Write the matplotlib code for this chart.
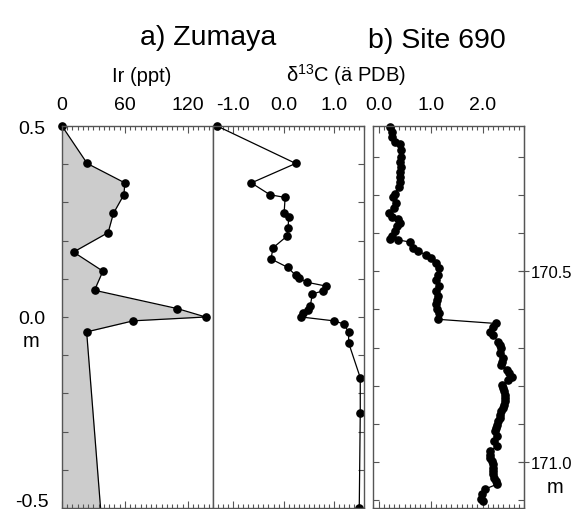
import numpy as np
import matplotlib.pyplot as plt
from matplotlib.ticker import MultipleLocator

plt.rcParams['font.family'] = ['Liberation Sans', 'DejaVu Sans']
plt.rcParams['mathtext.default'] = 'regular'
plt.rcParams['mathtext.fontset'] = 'custom'
plt.rcParams['mathtext.rm'] = 'Liberation Sans'

# a) Zumaya - Ir (last point lies below the plotted range)
ir_depth = [0.5, 0.402, 0.351, 0.320, 0.271, 0.221, 0.170, 0.120, 0.070,
            0.022, 0.0, -0.010, -0.039, -0.56]
ir_ppt = [0, 24, 60, 59, 49, 44, 11, 39, 31, 110, 137, 68, 23.5, 38.5]

# a) Zumaya - d13C
zum_depth = [0.5, 0.402, 0.351, 0.320, 0.313, 0.272, 0.263, 0.232, 0.211,
             0.181, 0.152, 0.130, 0.109, 0.102, 0.091, 0.081, 0.069, 0.060,
             0.030, 0.019, 0.010, 0.0, -0.010, -0.018, -0.040, -0.068,
             -0.159, -0.250, -0.5]
zum_d13c = [-1.32, 0.24, -0.64, -0.27, 0.03, 0.01, 0.10, 0.09, 0.06,
            -0.21, -0.25, 0.08, 0.24, 0.31, 0.46, 0.84, 0.79, 0.57,
            0.53, 0.49, 0.39, 0.35, 0.99, 1.19, 1.29, 1.29,
            1.52, 1.52, 1.50]

# b) Site 690 - d13C
s690_depth = [170.122, 170.135, 170.148, 170.161, 170.168, 170.183, 170.200,
              170.214, 170.227, 170.240, 170.253, 170.266, 170.279, 170.298,
              170.307, 170.322, 170.335, 170.348, 170.357, 170.364, 170.374,
              170.383, 170.396, 170.407, 170.416, 170.418, 170.424, 170.439,
              170.448, 170.457, 170.465, 170.478, 170.491, 170.509, 170.522,
              170.539, 170.552, 170.565, 170.576, 170.587, 170.598, 170.609,
              170.626,
              170.637, 170.647, 170.659, 170.668, 170.685, 170.693, 170.702,
              170.715, 170.728, 170.737, 170.746, 170.759, 170.767, 170.776,
              170.785, 170.798, 170.806, 170.815, 170.824, 170.833, 170.841,
              170.850, 170.858, 170.867, 170.876, 170.885, 170.893, 170.902,
              170.910, 170.919, 170.932, 170.945, 170.958, 170.971, 170.980,
              170.989, 170.997, 171.006, 171.015, 171.023, 171.032, 171.041,
              171.049, 171.058, 171.071, 171.084, 171.097, 171.102]
s690_d13c = [0.23, 0.26, 0.25, 0.31, 0.42, 0.44, 0.43,
             0.41, 0.43, 0.41, 0.41, 0.42, 0.39, 0.31,
             0.28, 0.34, 0.29, 0.21, 0.25, 0.37, 0.41,
             0.36, 0.31, 0.25, 0.23, 0.37, 0.61, 0.66,
             0.76, 0.91, 1.01, 1.11, 1.16, 1.14, 1.11,
             1.16, 1.11, 1.14, 1.12, 1.10, 1.12, 1.16,
             1.14,
             2.26, 2.20, 2.14, 2.20, 2.30, 2.33, 2.36,
             2.33, 2.40, 2.38, 2.36, 2.46, 2.50, 2.56,
             2.49, 2.38, 2.40, 2.41, 2.42, 2.43, 2.42,
             2.41, 2.39, 2.36, 2.34, 2.33, 2.30, 2.28,
             2.26, 2.24, 2.27, 2.22, 2.28, 2.14, 2.14,
             2.15, 2.18, 2.20, 2.19, 2.19, 2.20, 2.22,
             2.25, 2.27, 2.04, 1.98, 1.96, 2.01]

W, H = 572.0, 510.0
fig = plt.figure(figsize=(W / 100, H / 100), dpi=100)


def box(x0, x1, y0=127.0, y1=509.0):
    return [x0 / W, 1 - y1 / H, (x1 - x0) / W, (y1 - y0) / H]


ax1 = fig.add_axes(box(62, 213))
ax2 = fig.add_axes(box(213, 364.3))
ax3 = fig.add_axes(box(373.3, 524.3))

spine_col = '#555555'
for ax in (ax1, ax2, ax3):
    for s in ax.spines.values():
        s.set_color(spine_col)
        s.set_linewidth(1.0)
    ax.xaxis.tick_top()
    ax.xaxis.set_minor_locator(MultipleLocator(0.1))
    ax.tick_params(axis='x', which='both', direction='in', top=True,
                   bottom=True, labeltop=True, labelbottom=False,
                   labelsize=14, color=spine_col, width=0.8, pad=9)
    ax.tick_params(axis='x', which='major', length=5)
    ax.tick_params(axis='x', which='minor', length=3)

mk = dict(marker='o', ms=5.2, color='black', lw=0.9)

# --- Ir ---
ax1.fill_betweenx(ir_depth, 0, ir_ppt, color='#cccccc', lw=0)
ax1.plot(ir_ppt, ir_depth, color='black', lw=0.9)
ax1.plot(ir_ppt[:-1], ir_depth[:-1], 'o', ms=5.2, color='black', clip_on=False)
ax1.set_xlim(0, 144)
ax1.set_ylim(-0.5, 0.5)
ax1.set_xticks([0, 60, 120])
ax1.xaxis.set_minor_locator(MultipleLocator(5))
ax1.set_yticks([-0.5, 0.0, 0.5])
ax1.set_yticklabels(['', '0.0', '0.5'])
ax1.yaxis.set_minor_locator(MultipleLocator(0.1))
ax1.tick_params(axis='y', which='both', direction='in', left=True, right=False,
                labelsize=14, color=spine_col, width=0.8, length=4, pad=12)
# bottom depth label sits at the lower image edge
fig.text(49 / W, 1 - 507 / H, '-0.5', fontsize=14, ha='right', va='baseline')

# --- d13C Zumaya ---
ax2.plot(zum_d13c, zum_depth, clip_on=False, **mk)
ax2.set_xlim(-1.4, 1.6)
ax2.set_ylim(-0.5, 0.5)
ax2.set_xticks([-1, 0, 1])
ax2.set_xticklabels(['-1.0', '0.0', '1.0'])
ax2.set_yticks([-0.5, 0.0, 0.5])
ax2.yaxis.set_minor_locator(MultipleLocator(0.1))
ax2.tick_params(axis='y', which='both', direction='in', left=False, right=True,
                labelleft=False, color=spine_col, width=0.8, length=4)

# --- d13C Site 690 ---
ax3.plot(s690_d13c, s690_depth, clip_on=False, **mk)
ax3.set_xlim(-0.1, 2.8)
ax3.set_ylim(171.12, 170.12)
ax3.set_xticks([0, 1, 2])
ax3.set_xticklabels(['0.0', '1.0', '2.0'])
ax3.set_yticks([170.5, 171.0])
ax3.yaxis.set_minor_locator(MultipleLocator(0.1))
ax3.tick_params(axis='y', which='both', direction='in', left=True, right=True,
                labelleft=False, labelright=False, color=spine_col,
                width=0.8, length=4)
sec = ax3.secondary_yaxis('right')
sec.set_yticks([170.5, 171.0])
sec.set_yticklabels(['170.5', '171.0'], fontsize=12)
sec.spines['right'].set_color(spine_col)
sec.tick_params(axis='y', direction='inout', length=7, width=0.8,
                color=spine_col, pad=1)

# titles and labels
fig.text(208 / W, 1 - 45 / H, 'a) Zumaya', fontsize=20.5, ha='center', va='baseline')
fig.text(437 / W, 1 - 48 / H, 'b) Site 690', fontsize=20.5, ha='center', va='baseline')
fig.text(142 / W, 1 - 82 / H, 'Ir (ppt)', fontsize=14.5, ha='center', va='baseline')
fig.text(346 / W, 1 - 82 / H, r'δ$^{13}$C (ä PDB)', fontsize=14.5, ha='center', va='baseline')
fig.text(31 / W, 1 - 342 / H, 'm', fontsize=14.5, ha='center', va='center')
fig.text(555 / W, 1 - 488 / H, 'm', fontsize=14.5, ha='center', va='center')

fig.savefig('out.png', dpi=100)
